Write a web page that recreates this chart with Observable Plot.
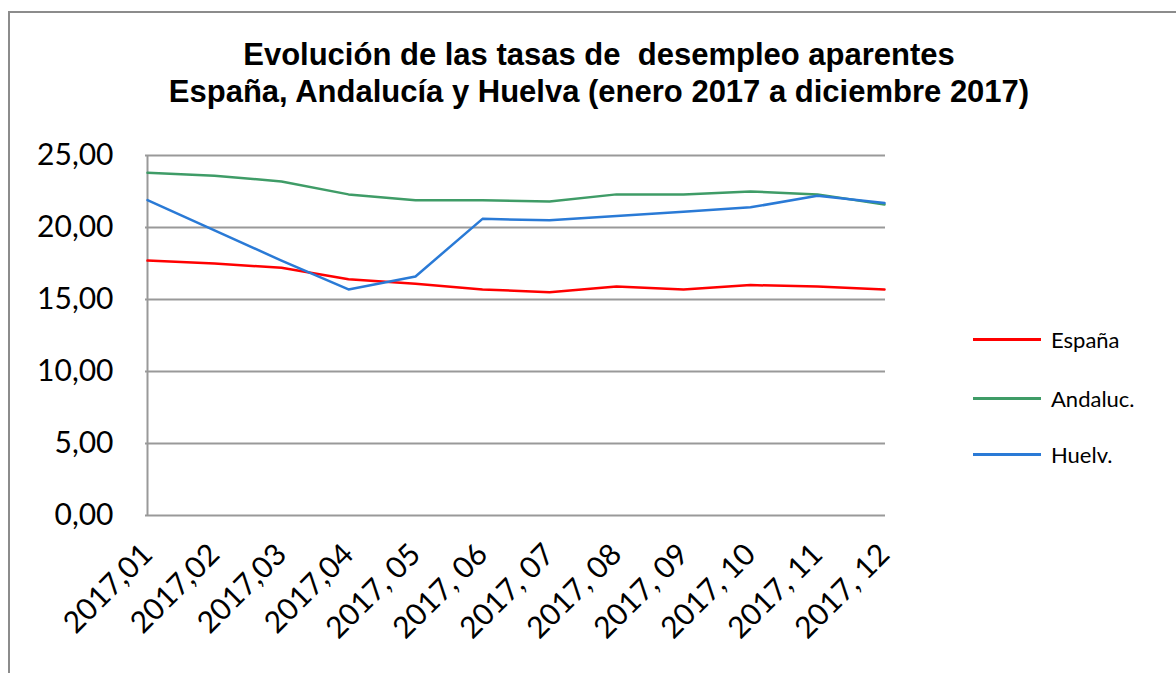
<!DOCTYPE html>
<html>
<head>
<meta charset="utf-8">
<script src="https://cdn.jsdelivr.net/npm/d3@7"></script>
<script src="https://cdn.jsdelivr.net/npm/@observablehq/plot@0.6"></script>
<style>
  html, body { margin: 0; padding: 0; background: #fff; }
  #wrap { position: relative; width: 1176px; height: 673px; overflow: hidden; background: #fff; }
  #border { position: absolute; left: 8px; top: 11px; width: 1200px; height: 700px; border: 2px solid #8c8c8c; box-sizing: border-box; }
  #title { position: absolute; left: 0; width: 1198px; top: 36px; text-align: center;
           font-family: "Liberation Sans Narrow", "Liberation Sans", sans-serif; font-weight: bold;
           font-size: 31px; line-height: 37px; color: #000; }
  #chart { position: absolute; left: 0; top: 125px; }
  .leg { position: absolute; left: 973px; height: 30px; display: flex; align-items: center;
         font-family: Lato, sans-serif; font-size: 22px; color: #000; }
  .leg span.sw { display: inline-block; width: 68px; height: 3px; margin-right: 10px; }
</style>
</head>
<body>
<div id="wrap">
  <div id="border"></div>
  <div id="title">Evolución de las tasas de&nbsp; desempleo aparentes<br>España, Andalucía y Huelva (enero 2017 a diciembre 2017)</div>
  <div id="chart"></div>
  <div id="legend"></div>
</div>
<script>
const months = ["2017,01","2017,02","2017,03","2017,04","2017, 05","2017, 06","2017, 07","2017, 08","2017, 09","2017, 10","2017, 11","2017, 12"];
const seriesNames = ["España", "Andaluc.", "Huelv."];
const espana  = [17.7, 17.5, 17.2, 16.4, 16.1, 15.7, 15.5, 15.9, 15.7, 16.0, 15.9, 15.7];
const andaluc = [23.8, 23.6, 23.2, 22.3, 21.9, 21.9, 21.8, 22.3, 22.3, 22.5, 22.3, 21.6];
const huelva  = [21.9, 19.8, 17.7, 15.7, 16.6, 20.6, 20.5, 20.8, 21.1, 21.4, 22.2, 21.7];
const yTicks = [0, 5, 10, 15, 20, 25];
const colors = ["#ff0000", "#3f9c67", "#2a7ad6"];

const allValues = [espana, andaluc, huelva];
const data = [];
allValues.forEach((vals, s) => vals.forEach((v, i) => data.push({month: months[i], serie: seriesNames[s], value: v})));

const fmt = d => d.toFixed(2).replace(".", ",");

const chart = Plot.plot({
  width: 1176,
  height: 548,
  marginLeft: 145,
  marginRight: 291,
  marginTop: 30,
  marginBottom: 158,
  style: { fontFamily: "Lato, sans-serif", background: "transparent", color: "#000" },
  x: { type: "point", domain: months, padding: 0, axis: null },
  y: { domain: [0, 25], axis: null },
  color: { domain: seriesNames, range: colors },
  marks: [
    Plot.gridY(yTicks, { stroke: "#999", strokeOpacity: 1, strokeWidth: 2 }),
    Plot.ruleX([months[0]], { y1: 0, y2: 25, stroke: "#999", strokeWidth: 2 }),
    Plot.axisY(yTicks, { tickSize: 0, tickPadding: 32, tickFormat: fmt, fontSize: 30, label: null }),
    Plot.axisX(months, { tickSize: 0, tickPadding: 34, tickRotate: -45, fontSize: 30, label: null }),
    Plot.line(data, { x: "month", y: "value", z: "serie", stroke: "serie", strokeWidth: 2.5 })
  ]
});
document.getElementById("chart").appendChild(chart);

const legendTops = [324, 383, 439];
const legend = document.getElementById("legend");
seriesNames.forEach((name, i) => {
  const d = document.createElement("div");
  d.className = "leg";
  d.style.top = legendTops[i] + "px";
  const sw = document.createElement("span");
  sw.className = "sw";
  sw.style.background = colors[i];
  d.appendChild(sw);
  d.appendChild(document.createTextNode(name));
  legend.appendChild(d);
});
</script>
</body>
</html>
